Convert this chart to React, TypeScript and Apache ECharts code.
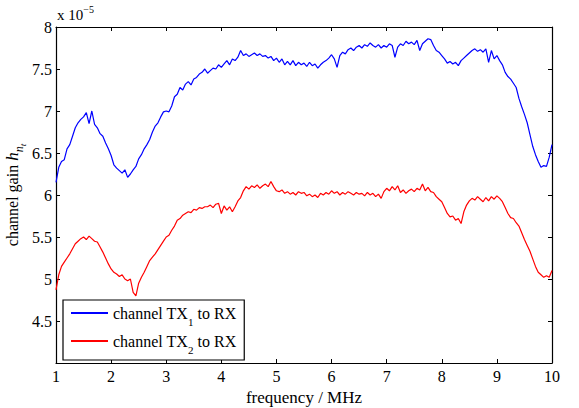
import React, { useEffect, useRef } from "react";
import * as echarts from "echarts";

const FREQ_START = 1;
const FREQ_STEP = 0.05;

const tx1Gain = [
  6.15, 6.33, 6.40, 6.42, 6.55, 6.60, 6.70, 6.80, 6.86, 6.90,
  6.93, 6.98, 6.85, 7.00, 6.84, 6.80, 6.73, 6.70, 6.62, 6.55,
  6.47, 6.36, 6.32, 6.29, 6.26, 6.30, 6.21, 6.25, 6.30, 6.34,
  6.43, 6.48, 6.55, 6.60, 6.66, 6.75, 6.82, 6.86, 6.93, 6.99,
  7.00, 6.99, 7.06, 7.17, 7.20, 7.28, 7.25, 7.32, 7.35, 7.31,
  7.38, 7.40, 7.44, 7.46, 7.50, 7.45, 7.48, 7.51, 7.50, 7.55,
  7.52, 7.56, 7.60, 7.55, 7.62, 7.60, 7.64, 7.72, 7.66, 7.68,
  7.65, 7.67, 7.69, 7.66, 7.68, 7.65, 7.66, 7.63, 7.65, 7.60,
  7.63, 7.58, 7.62, 7.55, 7.59, 7.55, 7.60, 7.54, 7.58, 7.55,
  7.57, 7.53, 7.58, 7.54, 7.56, 7.51, 7.55, 7.58, 7.60, 7.63,
  7.67, 7.62, 7.52, 7.66, 7.70, 7.68, 7.73, 7.75, 7.72, 7.76,
  7.78, 7.75, 7.79, 7.77, 7.81, 7.78, 7.76, 7.79, 7.75, 7.78,
  7.76, 7.80, 7.78, 7.64, 7.76, 7.80, 7.78, 7.83, 7.80, 7.82,
  7.79, 7.84, 7.72, 7.80, 7.83, 7.86, 7.85, 7.78, 7.72, 7.70,
  7.66, 7.62, 7.57, 7.59, 7.56, 7.58, 7.54, 7.60, 7.63, 7.66,
  7.69, 7.72, 7.74, 7.71, 7.73, 7.70, 7.74, 7.58, 7.72, 7.62,
  7.66, 7.60, 7.55, 7.46, 7.41, 7.38, 7.33, 7.28, 7.15, 7.05,
  6.96, 6.86, 6.72, 6.58, 6.48, 6.40, 6.33, 6.35, 6.34, 6.45,
  6.60,
];

const tx2Gain = [
  4.87, 5.05, 5.15, 5.20, 5.25, 5.30, 5.36, 5.42, 5.45, 5.48,
  5.50, 5.47, 5.51, 5.48, 5.45, 5.44, 5.38, 5.32, 5.25, 5.18,
  5.12, 5.08, 5.06, 5.03, 5.05, 5.00, 4.98, 5.00, 4.84, 4.80,
  4.95, 5.02, 5.08, 5.15, 5.22, 5.26, 5.30, 5.35, 5.40, 5.45,
  5.50, 5.52, 5.58, 5.63, 5.70, 5.72, 5.76, 5.78, 5.80, 5.79,
  5.83, 5.82, 5.85, 5.84, 5.86, 5.86, 5.88, 5.85, 5.89, 5.90,
  5.78, 5.87, 5.82, 5.86, 5.80, 5.86, 5.93, 5.97, 6.05, 6.10,
  6.07, 6.11, 6.09, 6.12, 6.08, 6.11, 6.13, 6.10, 6.16, 6.10,
  6.05, 6.04, 6.06, 6.02, 6.04, 6.01, 6.03, 6.00, 6.04, 6.02,
  6.03, 5.99, 6.01, 5.98, 6.00, 5.97, 6.02, 6.00, 6.03, 6.01,
  6.05, 6.02, 6.04, 6.00, 6.03, 6.01, 6.04, 6.02, 6.00, 6.03,
  6.01, 6.02, 5.99, 6.03, 6.00, 6.02, 5.98, 6.01, 5.96, 6.04,
  6.08, 6.05, 6.10, 6.06, 6.11, 6.03, 6.06, 6.02, 6.05, 6.07,
  6.04, 6.08, 6.06, 6.13, 6.05, 6.09, 6.04, 6.03, 5.98, 5.95,
  5.92, 5.85, 5.78, 5.74, 5.75, 5.70, 5.72, 5.66, 5.80, 5.88,
  5.93, 5.96, 5.94, 5.98, 5.95, 5.92, 5.97, 5.93, 5.98, 5.95,
  5.99, 5.96, 5.92, 5.85, 5.78, 5.73, 5.72, 5.67, 5.63, 5.55,
  5.47, 5.40, 5.33, 5.24, 5.15, 5.08, 5.05, 5.02, 5.04, 5.02,
  5.10,
];

const seriesNames = ["channel TX1 to RX", "channel TX2 to RX"];
const seriesColors = ["#0000ff", "#ff0000"];
const xTicks = [1, 10, 1];
const yTicks = [4, 8, 0.5];

const toPairs = (vals: number[]) =>
  vals.map((v, i) => [+(FREQ_START + i * FREQ_STEP).toFixed(2), v]);

const FONT = "'Liberation Serif', 'DejaVu Serif', serif";

export default function App() {
  const ref = useRef<HTMLDivElement>(null);
  useEffect(() => {
    document.body.style.margin = "0";
    const chart = echarts.init(ref.current!, undefined, { renderer: "svg" });
    const axisLine = { show: true, lineStyle: { color: "#000", width: 1.2 } };
    const tick = { show: true, inside: true, length: 4, lineStyle: { color: "#000", width: 1 } };
    chart.setOption({
      animation: false,
      backgroundColor: "#fff",
      textStyle: { fontFamily: FONT },
      grid: { left: 56, right: 27, top: 27, bottom: 45, outerBoundsMode: "none", containLabel: false },
      xAxis: [
        {
          type: "value",
          min: xTicks[0],
          max: xTicks[1],
          interval: xTicks[2],
          axisLine,
          axisTick: tick,
          splitLine: { show: false },
          axisLabel: { color: "#000", fontSize: 16, fontFamily: FONT, margin: 5 },
          name: "frequency / MHz",
          nameLocation: "middle",
          nameGap: 26,
          nameMoveOverlap: false,
          nameTextStyle: { color: "#000", fontSize: 17, fontFamily: FONT },
        },
        {
          type: "value",
          position: "top",
          min: xTicks[0],
          max: xTicks[1],
          interval: xTicks[2],
          axisLine,
          axisTick: tick,
          splitLine: { show: false },
          axisLabel: { show: false },
        },
      ],
      yAxis: [
        {
          type: "value",
          min: yTicks[0],
          max: yTicks[1],
          interval: yTicks[2],
          axisLine,
          axisTick: tick,
          splitLine: { show: false },
          axisLabel: {
            color: "#000",
            fontSize: 16,
            fontFamily: FONT,
            margin: 4,
            formatter: (v: number) => (v === 4 ? "" : String(v)),
          },
          name: "{a|channel gain }{i|h}{s|n}{t|t}",
          nameLocation: "middle",
          nameRotate: 90,
          nameGap: 34,
          nameMoveOverlap: false,
          nameTextStyle: {
            color: "#000",
            fontSize: 16,
            fontFamily: FONT,
            rich: {
              a: { fontSize: 16, fontFamily: FONT, color: "#000", lineHeight: 20 },
              i: { fontSize: 17, fontFamily: FONT, fontStyle: "italic", color: "#000", lineHeight: 20 },
              s: { fontSize: 12, fontFamily: FONT, fontStyle: "italic", color: "#000", lineHeight: 20, verticalAlign: "bottom", padding: [0, 0, -3, 0] },
              t: { fontSize: 9, fontFamily: FONT, fontStyle: "italic", color: "#000", lineHeight: 20, verticalAlign: "bottom", padding: [0, 0, -5, 0] },
            },
          },
        },
        {
          type: "value",
          position: "right",
          min: yTicks[0],
          max: yTicks[1],
          interval: yTicks[2],
          axisLine,
          axisTick: tick,
          splitLine: { show: false },
          axisLabel: { show: false },
        },
      ],
      legend: {
        orient: "vertical",
        left: 63,
        top: 300,
        width: 178,
        padding: [5, 8, 5, 8],
        itemGap: 6,
        itemWidth: 37,
        itemHeight: 2,
        icon: "rect",
        backgroundColor: "#fff",
        borderColor: "#000",
        borderWidth: 1.2,
        data: seriesNames,
        formatter: (name: string) =>
          name === seriesNames[0]
            ? "{a|channel TX}{s|1}{a| to RX}"
            : "{a|channel TX}{s|2}{a| to RX}",
        textStyle: {
          color: "#000",
          fontFamily: FONT,
          fontSize: 16,
          rich: {
            a: { fontSize: 16, fontFamily: FONT, color: "#000", lineHeight: 20 },
            s: { fontSize: 11, fontFamily: FONT, color: "#000", lineHeight: 20, verticalAlign: "bottom", padding: [0, 0, -4, 0] },
          },
        },
      },
      graphic: [
        {
          type: "text",
          left: 57,
          top: 4,
          style: {
            text: "{a|x 10}{s|−5}",
            fill: "#000",
            font: `15px ${FONT}`,
            rich: {
              a: { fontSize: 15, fontFamily: FONT, fill: "#000", lineHeight: 18, verticalAlign: "bottom" },
              s: { fontSize: 10, fontFamily: FONT, fill: "#000", lineHeight: 18, verticalAlign: "top", padding: [0, 0, 6, 0] },
            },
          },
        },
      ],
      series: [
        {
          name: seriesNames[0],
          type: "line",
          data: toPairs(tx1Gain),
          showSymbol: false,
          symbol: "none",
          lineStyle: { color: seriesColors[0], width: 1.2 },
          itemStyle: { color: seriesColors[0] },
        },
        {
          name: seriesNames[1],
          type: "line",
          data: toPairs(tx2Gain),
          showSymbol: false,
          symbol: "none",
          lineStyle: { color: seriesColors[1], width: 1.2 },
          itemStyle: { color: seriesColors[1] },
        },
      ],
    });
    return () => chart.dispose();
  }, []);
  return <div ref={ref} style={{ width: 579, height: 408 }} />;
}
